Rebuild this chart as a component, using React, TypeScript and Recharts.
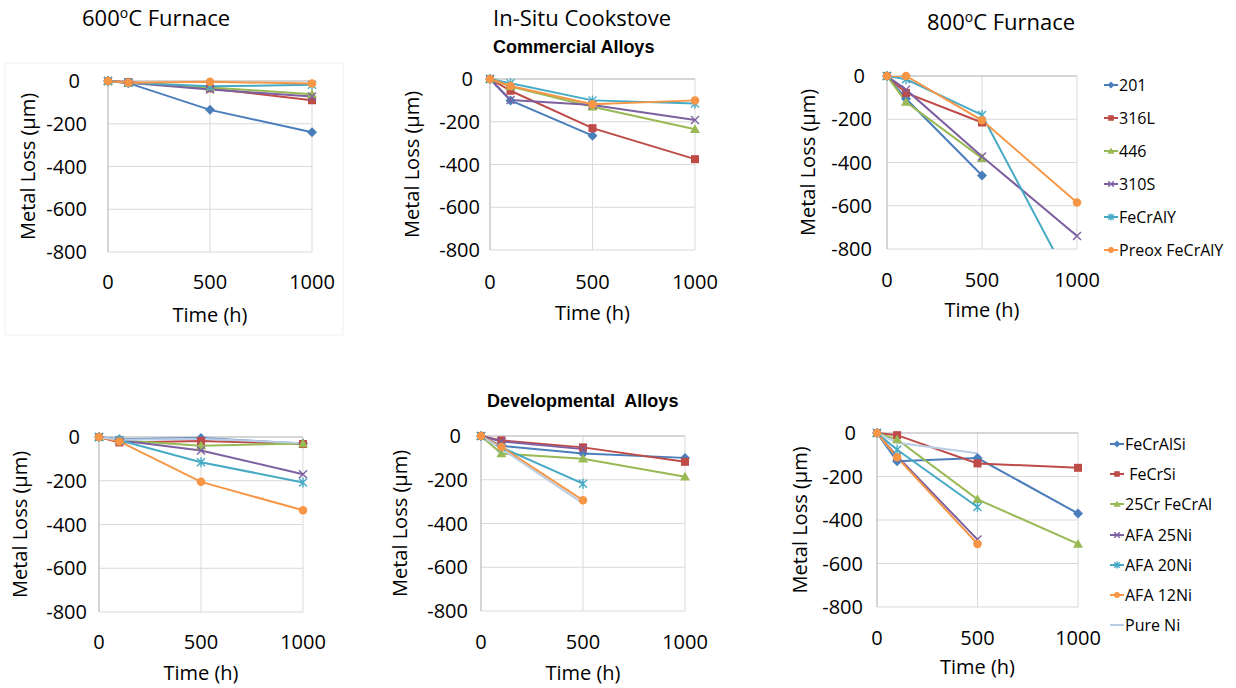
import React from 'react'
import { LineChart, Line, XAxis, YAxis, CartesianGrid, ReferenceLine, Legend } from 'recharts'

// hours of exposure
const times = [0, 100, 500, 1000]
const xTicks = [0, 500, 1000]
const yTicks = [-800, -600, -400, -200, 0]

const commercialAlloys = ['201', '316L', '446', '310S', 'FeCrAlY', 'Preox FeCrAlY']
const developmentalAlloys = ['FeCrAlSi', ' FeCrSi', '25Cr FeCrAl', 'AFA 25Ni', 'AFA 20Ni', 'AFA 12Ni', 'Pure Ni']

// metal loss (µm), one row per alloy, columns follow `times`
const furnace600Commercial = [
  [0, -10, -135, -240],
  [0, -5, -35, -90],
  [0, -8, -30, -62],
  [0, -8, -40, -72],
  [0, -8, -25, -18],
  [0, -8, -4, -12],
]
const cookstoveCommercial = [
  [0, -100, -265, null],
  [0, -55, -230, -375],
  [0, -35, -130, -235],
  [0, -98, -122, -192],
  [0, -20, -100, -115],
  [0, -33, -118, -100],
]
const furnace800Commercial = [
  [0, -105, -460, null],
  [0, -78, -215, null],
  [0, -120, -380, null],
  [0, -63, -372, -740],
  [0, -15, -180, -1010],
  [0, 0, -205, -585],
]
const furnace600Developmental = [
  [0, -10, -5, -30],
  [0, -25, -18, -32],
  [0, -15, -40, -30],
  [0, -15, -62, -170],
  [0, -15, -115, -208],
  [0, -20, -205, -335],
  [0, -12, -8, -28],
]
const cookstoveDevelopmental = [
  [0, -45, -80, -100],
  [0, -20, -52, -118],
  [0, -80, -104, -186],
  [0, -25, -60, null],
  [0, -52, -218, null],
  [0, -50, -294, null],
  [0, -58, -308, null],
]
const furnace800Developmental = [
  [0, -130, -115, -370],
  [0, -10, -140, -160],
  [0, -30, -305, -510],
  [0, -107, -490, null],
  [0, -77, -340, null],
  [0, -112, -510, null],
  [0, -45, -93, null],
]

const FONT = '"Open Sans", sans-serif'
const COLORS = ['#4A7EBB', '#BE4B48', '#98B954', '#7D60A0', '#46AAC5', '#F79646', '#B9CDE5']
const MARKERS = ['diamond', 'square', 'triangle', 'cross', 'star', 'circle', 'none']

function buildRows(values: (number | null)[][]) {
  return times.map((t, i) => {
    const row: Record<string, number | null> = { t }
    values.forEach((v, j) => {
      row['s' + j] = v[i]
    })
    return row
  })
}

function Marker({ shape, cx, cy, color, s }: { shape: string; cx: number; cy: number; color: string; s: number }) {
  const h = s * 0.8
  switch (shape) {
    case 'diamond':
      return <polygon points={`${cx},${cy - s} ${cx + s},${cy} ${cx},${cy + s} ${cx - s},${cy}`} fill={color} />
    case 'square':
      return <rect x={cx - h} y={cy - h} width={h * 2} height={h * 2} fill={color} />
    case 'triangle':
      return <polygon points={`${cx},${cy - s} ${cx + s},${cy + s * 0.75} ${cx - s},${cy + s * 0.75}`} fill={color} />
    case 'cross':
      return <path d={`M${cx - h},${cy - h}L${cx + h},${cy + h}M${cx - h},${cy + h}L${cx + h},${cy - h}`} stroke={color} strokeWidth={1.4} />
    case 'star':
      return (
        <path
          d={`M${cx - h},${cy - h}L${cx + h},${cy + h}M${cx - h},${cy + h}L${cx + h},${cy - h}M${cx},${cy - s}L${cx},${cy + s}`}
          stroke={color}
          strokeWidth={1.4}
        />
      )
    case 'circle':
      return <circle cx={cx} cy={cy} r={s * 0.85} fill={color} />
    default:
      return null
  }
}

const makeDot = (j: number) => (props: any) => {
  const { cx, cy, index, value } = props
  const key = `dot-${j}-${index}`
  if (cx == null || cy == null || value == null || value < -800) return <g key={key} />
  return (
    <g key={key}>
      <Marker shape={MARKERS[j]} cx={cx} cy={cy} color={COLORS[j]} s={5} />
    </g>
  )
}

function LegendList({ payload, rowH }: { payload?: any[]; rowH: number }) {
  const items = (payload || [])
    .map((entry: any) => ({ entry, j: Number(String(entry.dataKey).slice(1)) }))
    .sort((a, b) => a.j - b.j)
  return (
    <div style={{ fontFamily: FONT, fontSize: 16, color: '#000' }}>
      {items.map(({ entry, j }) => (
        <div key={entry.dataKey} style={{ height: rowH, display: 'flex', alignItems: 'center', whiteSpace: 'pre' }}>
          <svg width={14} height={10} style={{ marginRight: 1 }}>
            <line x1={0} y1={5} x2={14} y2={5} stroke={COLORS[j]} strokeWidth={2} />
            <Marker shape={MARKERS[j]} cx={7} cy={5} color={COLORS[j]} s={3.5} />
          </svg>
          <span>{entry.value}</span>
        </div>
      ))}
    </div>
  )
}

type PanelProps = {
  id: string
  plotLeft: number
  plotTop: number
  plotW: number
  plotH: number
  values: (number | null)[][]
  names: string[]
  tickGap: number
  yLabelX: number
  tickOffset: number
  labelOffset: number
  overflow?: boolean
  legend?: { left: number; top: number; rowH: number }
}

function Panel(p: PanelProps) {
  const ML = 100
  const MT = 20
  const MR = 40
  const MB = 80
  const width = p.plotW + ML + MR
  const height = p.plotH + MT + MB
  const left = p.plotLeft - ML
  const top = p.plotTop - MT
  const rows = buildRows(p.values)
  const labelX = p.yLabelX - left
  const labelY = MT + p.plotH / 2

  const yTick = (t: any) => (
    <text
      x={t.x}
      y={t.y}
      dx={t.payload.value === 0 ? -7 : 0}
      dy="0.35em"
      textAnchor="end"
      fill="#000"
      fontSize={20}
      fontFamily={FONT}
    >
      {t.payload.value}
    </text>
  )

  return (
    <div className={p.id} style={{ position: 'absolute', left, top }}>
      <LineChart width={width} height={height} data={rows} margin={{ top: MT, right: MR, bottom: 0, left: 40 }}>
        <CartesianGrid stroke="#D9D9D9" />
        <XAxis
          dataKey="t"
          type="number"
          domain={[0, 1000]}
          ticks={xTicks}
          axisLine={false}
          tickLine={false}
          tickSize={0}
          tickMargin={p.tickOffset - 7}
          height={MB}
          tick={{ fill: '#000', fontSize: 20, fontFamily: FONT }}
          label={{
            content: (lp: any) => (
              <text
                x={lp.viewBox.x + lp.viewBox.width / 2}
                y={lp.viewBox.y + p.labelOffset}
                dy="0.35em"
                textAnchor="middle"
                fill="#000"
                fontSize={20}
                fontFamily={FONT}
              >
                Time (h)
              </text>
            ),
          }}
        />
        <YAxis
          type="number"
          domain={[-800, 0]}
          ticks={yTicks}
          interval={0}
          width={60}
          allowDataOverflow={!!p.overflow}
          axisLine={{ stroke: '#BFBFBF' }}
          tickLine={false}
          tickSize={0}
          tickMargin={p.tickGap}
          tick={yTick}
          label={{
            content: () => (
              <text
                x={labelX}
                y={labelY}
                dy="0.35em"
                textAnchor="middle"
                transform={`rotate(-90 ${labelX} ${labelY})`}
                fill="#000"
                fontSize={20}
                fontFamily={FONT}
              >
                Metal Loss (µm)
              </text>
            ),
          }}
        />
        <ReferenceLine y={0} stroke="#BFBFBF" />
        {p.names.map((name, j) => (
          <Line
            key={name}
            type="linear"
            dataKey={'s' + j}
            name={name}
            stroke={COLORS[j]}
            strokeWidth={2}
            dot={makeDot(j)}
            activeDot={false}
            connectNulls={false}
            isAnimationActive={false}
          />
        ))}
        {p.legend && (
          <Legend
            layout="vertical"
            align="center"
            verticalAlign="middle"
            wrapperStyle={{ left: p.legend.left, top: p.legend.top, width: 140 }}
            content={(lp: any) => <LegendList payload={lp.payload} rowH={p.legend!.rowH} />}
          />
        )}
      </LineChart>
    </div>
  )
}

export default function App() {
  return (
    <div style={{ position: 'absolute', left: 0, top: 0, width: 1236, height: 688, background: '#fff', fontFamily: FONT }}>
      <style>{'.p3 .recharts-line-dots{clip-path:none}'}</style>
      <svg width={1236} height={688} style={{ position: 'absolute', left: 0, top: 0 }}>
        <rect x={5} y={63} width={338} height={272} fill="none" stroke="#F0F0F0" />
        <text x={82} y={26} fontSize={22} fontFamily={FONT} fill="#000">
          600<tspan dy={-8} fontSize={14}>o</tspan>
          <tspan dy={8}>C Furnace</tspan>
        </text>
        <text x={493} y={26} fontSize={22} fontFamily={FONT} fill="#000">
          In-Situ Cookstove
        </text>
        <text x={493} y={53} fontSize={18} fontWeight="bold" fontFamily='"Liberation Sans", Arial, sans-serif' fill="#000">
          Commercial Alloys
        </text>
        <text x={927} y={30} fontSize={22} fontFamily={FONT} fill="#000">
          800<tspan dy={-8} fontSize={14}>o</tspan>
          <tspan dy={8}>C Furnace</tspan>
        </text>
        <text
          x={487}
          y={407}
          fontSize={18}
          fontWeight="bold"
          fontFamily='"Liberation Sans", Arial, sans-serif'
          fill="#000"
          style={{ whiteSpace: 'pre' }}
        >
          Developmental  Alloys
        </text>
      </svg>

      <Panel id="p1" plotLeft={108} plotTop={81} plotW={204} plotH={171} values={furnace600Commercial} names={commercialAlloys}
        tickGap={21} yLabelX={28} tickOffset={30} labelOffset={63} />
      <Panel id="p2" plotLeft={490} plotTop={79} plotW={205} plotH={171} values={cookstoveCommercial} names={commercialAlloys}
        tickGap={10} yLabelX={412} tickOffset={32} labelOffset={63} />
      <Panel id="p3" plotLeft={887} plotTop={76} plotW={190} plotH={173} values={furnace800Commercial} names={commercialAlloys}
        tickGap={15} yLabelX={808} tickOffset={31} labelOffset={61} overflow
        legend={{ left: 317, top: 12.5, rowH: 33 }} />
      <Panel id="p4" plotLeft={99} plotTop={437} plotW={204} plotH={175} values={furnace600Developmental} names={developmentalAlloys}
        tickGap={12} yLabelX={20} tickOffset={30} labelOffset={61} />
      <Panel id="p5" plotLeft={481} plotTop={436} plotW={204} plotH={175} values={cookstoveDevelopmental} names={developmentalAlloys}
        tickGap={13} yLabelX={400} tickOffset={31} labelOffset={62} />
      <Panel id="p6" plotLeft={877} plotTop={433} plotW={201} plotH={174} values={furnace800Developmental} names={developmentalAlloys}
        tickGap={14} yLabelX={800} tickOffset={31} labelOffset={60}
        legend={{ left: 333, top: 16, rowH: 30.2 }} />
    </div>
  )
}
